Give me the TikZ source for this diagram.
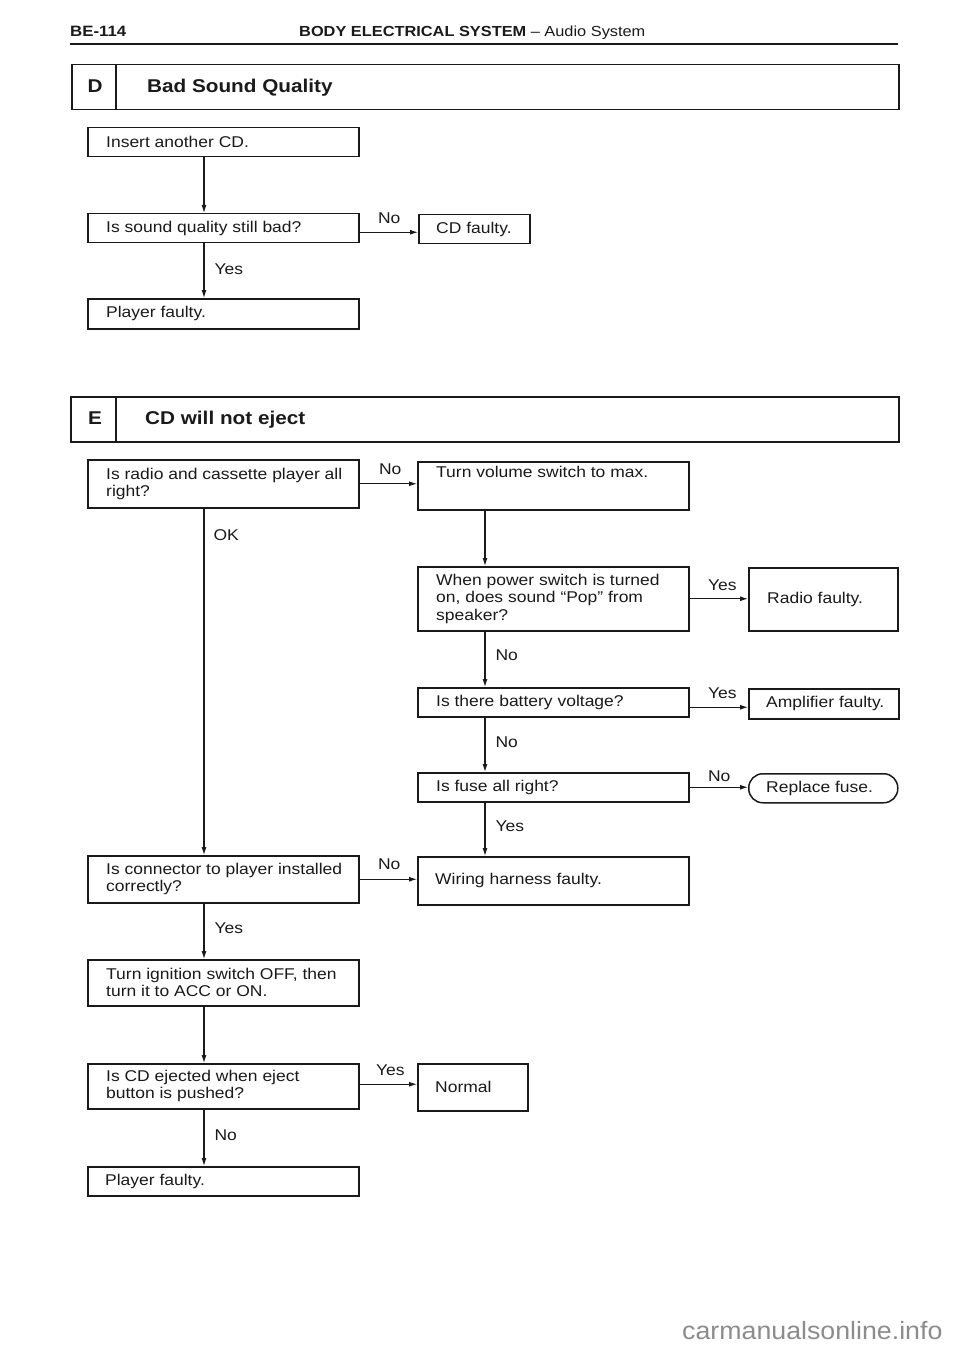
\documentclass[tikz,border=0pt]{standalone}
\usepackage{fontspec}
\setmainfont{Liberation Sans}[FakeStretch=1.12]
\newfontfamily\wmfont{Liberation Sans}[FakeStretch=1.07]
\usetikzlibrary{arrows.meta}
\definecolor{ink}{HTML}{1A1A1A}
\definecolor{wmgray}{HTML}{8C8C8C}
\begin{document}
\begin{tikzpicture}[x=1pt,y=-1pt,
  box/.style={draw=ink, line width=1.5pt, inner sep=0pt, anchor=north west},
  txt/.style={inner sep=0pt, align=left, text=ink, font=\fontsize{15.6}{17.3}\selectfont, anchor=west},
  lbl/.style={inner sep=0pt, text=ink, font=\fontsize{15.6}{17}\selectfont},
  arr/.style={draw=ink, line width=1.1pt, -{Latex[length=8pt,width=5pt]}},
  divline/.style={draw=ink, line width=1.5pt},
  headtitle/.style={inner sep=0pt, anchor=west, text=ink, font=\bfseries\fontsize{18.5}{19}\selectfont},
]
\fill[white] (0,0) rectangle (960,1356);
\useasboundingbox (0,0) rectangle (960,1356);

% running head
\node[inner sep=0pt, anchor=base west, text=ink, font=\bfseries\fontsize{15}{15}\selectfont] (pgno) at (70,37) {BE-114};
\node[inner sep=0pt, anchor=base west, text=ink, font=\fontsize{14.6}{15}\selectfont] (runhead) at (299,37) {\textbf{BODY ELECTRICAL SYSTEM} \textendash{} Audio System};
\draw[ink, line width=2.8pt] (70,44) -- (898,44);

% section D header
\node[box, minimum width=827pt, minimum height=45pt] (dhead) at (71,64) {};
\draw[divline] ([xshift=45pt]dhead.north west) -- ([xshift=45pt]dhead.south west);
\node[headtitle, anchor=center] (dletter) at (95,86.5) {D};
\node[headtitle] (dtitle) at ([xshift=76pt]dhead.west) {Bad Sound Quality};

% section D boxes
\node[box, minimum width=271pt, minimum height=29pt] (insert) at (87,127) {};
\node[txt] at ([xshift=19pt]insert.west) {Insert another CD.};
\node[box, minimum width=271pt, minimum height=29pt] (sound) at (87,213) {};
\node[txt] at ([xshift=19pt]sound.west) {Is sound quality still bad?};
\node[box, minimum width=111pt, minimum height=29pt] (cdf) at (418,214) {};
\node[txt] at ([xshift=18pt]cdf.west) {CD faulty.};
\node[box, minimum width=271pt, minimum height=30pt] (player1) at (87,298) {};
\node[txt] at ([xshift=19pt]player1.west) {Player faulty.};

% section E header
\node[box, minimum width=828pt, minimum height=45pt] (ehead) at (70,396) {};
\draw[divline] ([xshift=46pt]ehead.north west) -- ([xshift=46pt]ehead.south west);
\node[headtitle, anchor=center] (eletter) at (95,418.5) {E};
\node[headtitle] (etitle) at ([xshift=75pt]ehead.west) {CD will not eject};

% section E boxes
\node[box, minimum width=271pt, minimum height=48pt] (radio) at (87,459) {};
\node[txt] at ([xshift=19pt]radio.west) {Is radio and cassette player all\\right?};
\node[box, minimum width=271pt, minimum height=48pt] (turn) at (417,461) {};
\node[txt, anchor=north west] at ([xshift=19pt,yshift=-5pt]turn.north west) {Turn volume switch to max.};
\node[box, minimum width=271pt, minimum height=64pt] (when) at (417,566) {};
\node[txt] at ([xshift=19pt]when.west) {When power switch is turned\\on, does sound ``Pop'' from\\speaker?};
\node[box, minimum width=149pt, minimum height=63pt] (radiof) at (748,567) {};
\node[txt] at ([xshift=19pt]radiof.west) {Radio faulty.};
\node[box, minimum width=271pt, minimum height=29pt] (battery) at (417,687) {};
\node[txt] at ([xshift=19pt]battery.west) {Is there battery voltage?};
\node[box, minimum width=150pt, minimum height=30pt] (amp) at (748,688) {};
\node[txt] at ([xshift=18pt]amp.west) {Amplifier faulty.};
\node[box, minimum width=271pt, minimum height=29pt] (fuse) at (417,772) {};
\node[txt] at ([xshift=19pt]fuse.west) {Is fuse all right?};
\node[box, rounded corners=14pt, minimum width=149pt, minimum height=29pt] (replace) at (748,773) {};
\node[txt] at ([xshift=18pt]replace.west) {Replace fuse.};
\node[box, minimum width=271pt, minimum height=48pt] (wiring) at (417,856) {};
\node[txt] at ([xshift=18pt]wiring.west) {Wiring harness faulty.};
\node[box, minimum width=271pt, minimum height=47pt] (connector) at (87,855) {};
\node[txt] at ([xshift=19pt]connector.west) {Is connector to player installed\\correctly?};
\node[box, minimum width=271pt, minimum height=46pt] (ignition) at (87,959) {};
\node[txt] at ([xshift=19pt]ignition.west) {Turn ignition switch OFF, then\\turn it to ACC or ON.};
\node[box, minimum width=271pt, minimum height=45pt] (eject) at (87,1063) {};
\node[txt] at ([xshift=19pt]eject.west) {Is CD ejected when eject\\button is pushed?};
\node[box, minimum width=110pt, minimum height=47pt] (normal) at (417,1063) {};
\node[txt] at ([xshift=18pt]normal.west) {Normal};
\node[box, minimum width=271pt, minimum height=29pt] (player2) at (87,1166) {};
\node[txt] at ([xshift=18pt]player2.west) {Player faulty.};

% column coordinates
\coordinate (xL) at (204,0);
\coordinate (xM) at (485,0);

% connectors D
\draw[arr] (insert.south -| xL) -- (sound.north -| xL);
\draw[arr] ([yshift=-4pt]sound.east) -- ([yshift=-4pt]sound.east -| cdf.west)
  node[lbl, at start, anchor=base west, xshift=18pt, yshift=8.5pt] {No};
\draw[arr] (sound.south -| xL) -- node[lbl, anchor=west, xshift=10pt, yshift=2pt] {Yes} (player1.north -| xL);

% connectors E
\draw[arr] (radio.east) -- (radio.east -| turn.west)
  node[lbl, at start, anchor=base west, xshift=19pt, yshift=9.5pt] {No};
\draw[arr] (radio.south -| xL) -- (connector.north -| xL)
  node[lbl, at start, anchor=base west, xshift=9pt, yshift=-32pt] {OK};
\draw[arr] (turn.south -| xM) -- (when.north -| xM);
\draw[arr] (when.east) -- (when.east -| radiof.west)
  node[lbl, at start, anchor=base west, xshift=18pt, yshift=8.5pt] {Yes};
\draw[arr] (when.south -| xM) -- node[lbl, anchor=west, xshift=10pt, yshift=4pt] {No} (battery.north -| xM);
\draw[arr] ([yshift=-5pt]battery.east) -- ([yshift=-5pt]battery.east -| amp.west)
  node[lbl, at start, anchor=base west, xshift=18pt, yshift=8.5pt] {Yes};
\draw[arr] (battery.south -| xM) -- node[lbl, anchor=west, xshift=10pt, yshift=3pt] {No} (fuse.north -| xM);
\draw[arr] (fuse.east) -- (fuse.east -| replace.west)
  node[lbl, at start, anchor=base west, xshift=18pt, yshift=6pt] {No};
\draw[arr] (fuse.south -| xM) -- node[lbl, anchor=west, xshift=10pt, yshift=3pt] {Yes} (wiring.north -| xM);
\draw[arr] (connector.east) -- (connector.east -| wiring.west)
  node[lbl, at start, anchor=base west, xshift=18pt, yshift=10pt] {No};
\draw[arr] (connector.south -| xL) -- node[lbl, anchor=west, xshift=10pt, yshift=3pt] {Yes} (ignition.north -| xL);
\draw[arr] (ignition.south -| xL) -- (eject.north -| xL);
\draw[arr] ([yshift=2pt]eject.east) -- ([yshift=2pt]eject.east -| normal.west)
  node[lbl, at start, anchor=base west, xshift=16pt, yshift=9pt] {Yes};
\draw[arr] (eject.south -| xL) -- node[lbl, anchor=west, xshift=10pt, yshift=3pt] {No} (player2.north -| xL);

% watermark
\node[inner sep=0pt, anchor=west, text=wmgray, font=\wmfont\fontsize{25}{25}\selectfont] (wm) at (682,1331) {carmanualsonline.info};
\end{tikzpicture}
\end{document}
